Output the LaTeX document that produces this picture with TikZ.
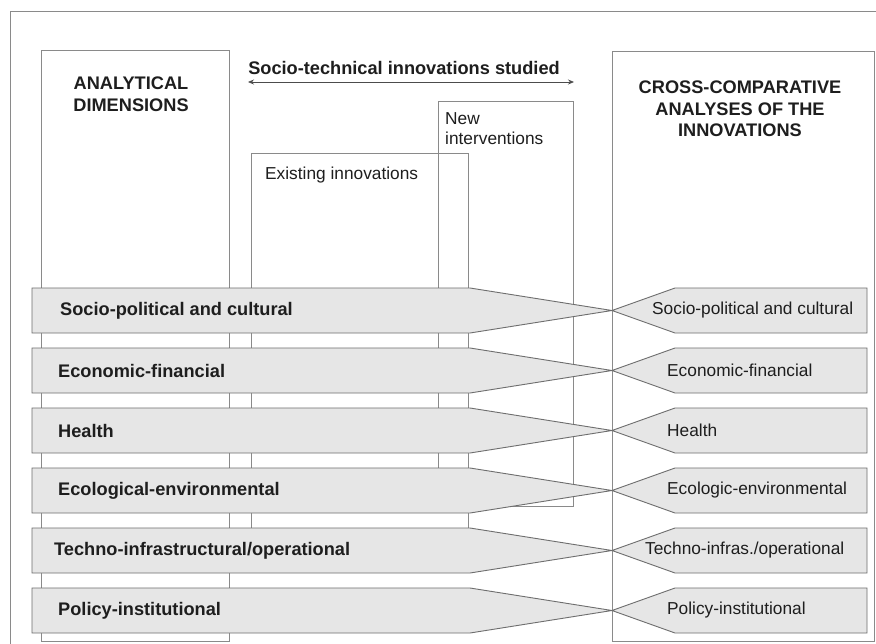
\documentclass[tikz,border=0pt]{standalone}
\usepackage{fontspec}
\setmainfont{Liberation Sans}
\usetikzlibrary{arrows.meta}
\definecolor{frameline}{HTML}{8A8A8A}
\definecolor{bandline}{HTML}{6E6E6E}
\definecolor{bandfill}{HTML}{E6E6E6}
\definecolor{inktext}{HTML}{1E1E1E}
\tikzset{
  frame/.style={draw=frameline, line width=0.9pt},
  band/.style={draw=bandline, fill=bandfill, line width=0.9pt},
  lbl/.style={font=\fontsize{18.2}{21}\selectfont\bfseries, text=inktext, inner sep=0pt, anchor=west},
  rlbl/.style={font=\fontsize{17.3}{20}\selectfont, text=inktext, inner sep=0pt, anchor=west},
  head/.style={font=\fontsize{18.2}{21.5}\selectfont\bfseries, text=inktext, align=center, inner sep=0pt},
  plain/.style={font=\fontsize{17.3}{20}\selectfont, text=inktext, inner sep=0pt, align=left},
  span/.style={{Stealth[length=6pt,width=5pt]}-{Stealth[length=6pt,width=5pt]}, draw=black!70, line width=0.8pt},
}
% one analytical dimension: left band tapering to the comparison box, right band opening from it
% #1 centre y, #2 left label, #3 left label x, #4 right label, #5 right label x, #6 name
\newcommand{\bandpair}[6]{%
  \draw[band] (32,#1-22.5) -- (470,#1-22.5) -- (612,#1) -- (470,#1+22.5) -- (32,#1+22.5) -- cycle;
  \draw[band] (612,#1) -- (675,#1-22.5) -- (867,#1-22.5) -- (867,#1+22.5) -- (675,#1+22.5) -- cycle;
  \node[lbl] (l#6) at (#3,#1) {#2};
  \node[rlbl] (r#6) at (#5,#1) {#4};
}
\begin{document}
\begin{tikzpicture}[x=1pt,y=-1pt]
  \useasboundingbox (0,0) rectangle (876,643);
  \clip (0,0) rectangle (876,643);
  \fill[white] (0,0) rectangle (876,643);

  % frames
  \draw[frame] (10,11) rectangle (890,660);
  \draw[frame] (41,50) rectangle (229,641);
  \draw[frame] (251,153) rectangle (468,560);
  \draw[frame] (438,101) rectangle (573,506);
  \draw[frame] (612,51) rectangle (874,641);

  % headings
  \node[head] (anahead) at (131,94) {ANALYTICAL\\DIMENSIONS};
  \node[head] (crosshead) at (740,109) {CROSS-COMPARATIVE\\ANALYSES OF THE\\INNOVATIONS};
  \node[head] (studied) at (404,68) {Socio-technical innovations studied};
  \coordinate (spanL) at (248,82);
  \coordinate (spanR) at (574,82);
  \draw[span] (spanL) -- (spanR);

  \node[plain, anchor=west] (existing) at (265,175) {Existing innovations};
  \node[plain, anchor=west] (newint) at (445,129) {New\\interventions};

  % dimension bands
  \bandpair{310.5}{Socio-political and cultural}{60}{Socio-political and cultural}{652}{socio}
  \bandpair{370.5}{Economic-financial}{58}{Economic-financial}{667}{econ}
  \bandpair{430.5}{Health}{58}{Health}{667}{health}
  \bandpair{490.5}{Ecological-environmental}{58}{Ecologic-environmental}{667}{eco}
  \bandpair{550.5}{Techno-infrastructural/operational}{54}{Techno-infras./operational}{645}{techno}
  \bandpair{610.5}{Policy-institutional}{58}{Policy-institutional}{667}{policy}
\end{tikzpicture}
\end{document}
